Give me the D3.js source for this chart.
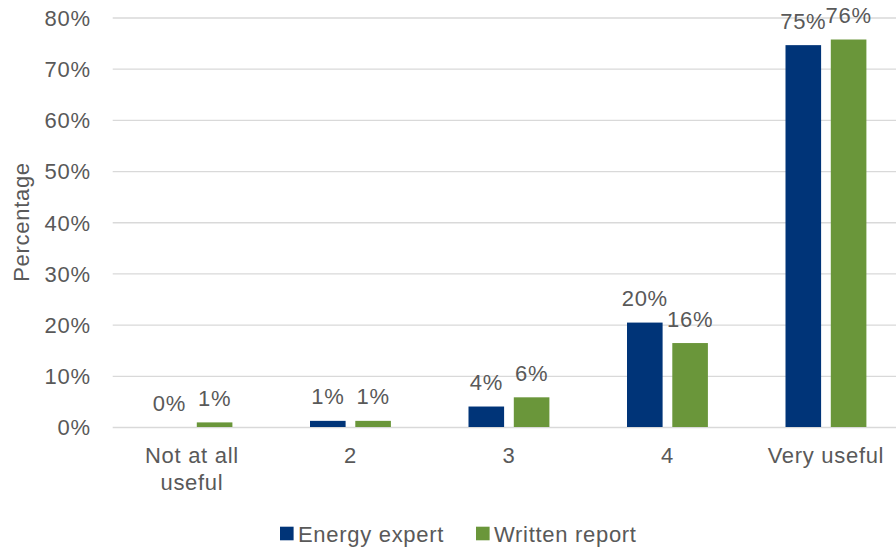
<!DOCTYPE html>
<html>
<head>
<meta charset="utf-8">
<script src="https://cdn.jsdelivr.net/npm/d3@7/dist/d3.min.js"></script>
<style>
  html, body { margin: 0; padding: 0; background: #fff; }
  svg text { font-family: "Liberation Sans", Arial, sans-serif; fill: #595959; font-size: 22px; letter-spacing: 0.7px; }
</style>
</head>
<body>
<svg id="chart" width="896" height="548"></svg>
<script>
// Usefulness ratings, share of respondents per source
const categories = ["Not at all useful", "2", "3", "4", "Very useful"];
const categoryLines = [["Not at all", "useful"], ["2"], ["3"], ["4"], ["Very useful"]];
const seriesNames = ["Energy expert", "Written report"];
const energyExpert = [0, 1.2, 4.0, 20.4, 74.6];
const writtenReport = [0.9, 1.2, 5.8, 16.4, 75.7];
const yTicks = [0, 10, 20, 30, 40, 50, 60, 70, 80];
const colors = ["#003478", "#6A963A"];

const seriesValues = [energyExpert, writtenReport];

const svg = d3.select("#chart");
const plot = { left: 112.7, right: 905.2, top: 17.5, bottom: 427 };

const x0 = d3.scaleBand().domain(categories).range([plot.left, plot.right]).paddingInner(0).paddingOuter(0);
const bw = x0.bandwidth();
const x1 = d3.scaleBand().domain(seriesNames).range([bw / 2 - 40.45, bw / 2 + 40.45]).paddingInner(0.214).paddingOuter(0);
const y = d3.scaleLinear().domain([0, 80]).range([plot.bottom, plot.top]);

// Gridlines and tick labels
const yAxis = d3.axisLeft(y).tickValues(yTicks).tickFormat(d => d + "%").tickSize(0).tickPadding(22);
const gy = svg.append("g").attr("transform", `translate(${plot.left},0)`).call(yAxis);
gy.select(".domain").remove();
gy.selectAll("text").attr("dy", "0.36em").style("font-family", null).style("font-size", null).attr("font-size", null).attr("font-family", null).attr("fill", null);
gy.selectAll(".tick").append("line")
  .attr("x1", 0).attr("x2", 896 - plot.left)
  .attr("stroke", "#D9D9D9").attr("stroke-width", 1.3);

// Bars
const groups = svg.append("g").selectAll("g")
  .data(categories)
  .join("g")
  .attr("transform", d => `translate(${x0(d)},0)`);

groups.selectAll("rect")
  .data((d, i) => seriesNames.map((s, j) => ({ s, j, v: seriesValues[j][i] })))
  .join("rect")
  .attr("x", d => x1(d.s))
  .attr("width", x1.bandwidth())
  .attr("y", d => y(d.v))
  .attr("height", d => y(0) - y(d.v))
  .attr("fill", d => colors[d.j]);

// Value labels
groups.selectAll("text.val")
  .data((d, i) => seriesNames.map((s, j) => ({ s, j, v: seriesValues[j][i] })))
  .join("text")
  .attr("class", "val")
  .attr("text-anchor", "middle")
  .attr("x", d => x1(d.s) + x1.bandwidth() / 2)
  .attr("y", d => y(d.v) - 16.5)
  .text(d => Math.round(d.v) + "%");

// Category labels
const xl = svg.append("g").selectAll("text")
  .data(categories)
  .join("text")
  .attr("text-anchor", "middle")
  .attr("x", d => x0(d) + bw / 2)
  .attr("y", 463);
xl.selectAll("tspan")
  .data((d, i) => categoryLines[i])
  .join("tspan")
  .attr("x", function () { return d3.select(this.parentNode).attr("x"); })
  .attr("dy", (d, i) => i === 0 ? 0 : 26.5)
  .text(d => d);

// Axis title
svg.append("text")
  .attr("transform", "translate(29,222) rotate(-90)")
  .attr("text-anchor", "middle")
  .text("Percentage");

// Legend
const legendItems = [
  { name: seriesNames[0], color: colors[0], x: 280 },
  { name: seriesNames[1], color: colors[1], x: 476 }
];
const lg = svg.append("g").selectAll("g").data(legendItems).join("g")
  .attr("transform", d => `translate(${d.x},526.7)`);
lg.append("rect").attr("width", 13.6).attr("height", 13.6).attr("fill", d => d.color);
lg.append("text").attr("x", 18).attr("y", 15).text(d => d.name);
</script>
</body>
</html>
